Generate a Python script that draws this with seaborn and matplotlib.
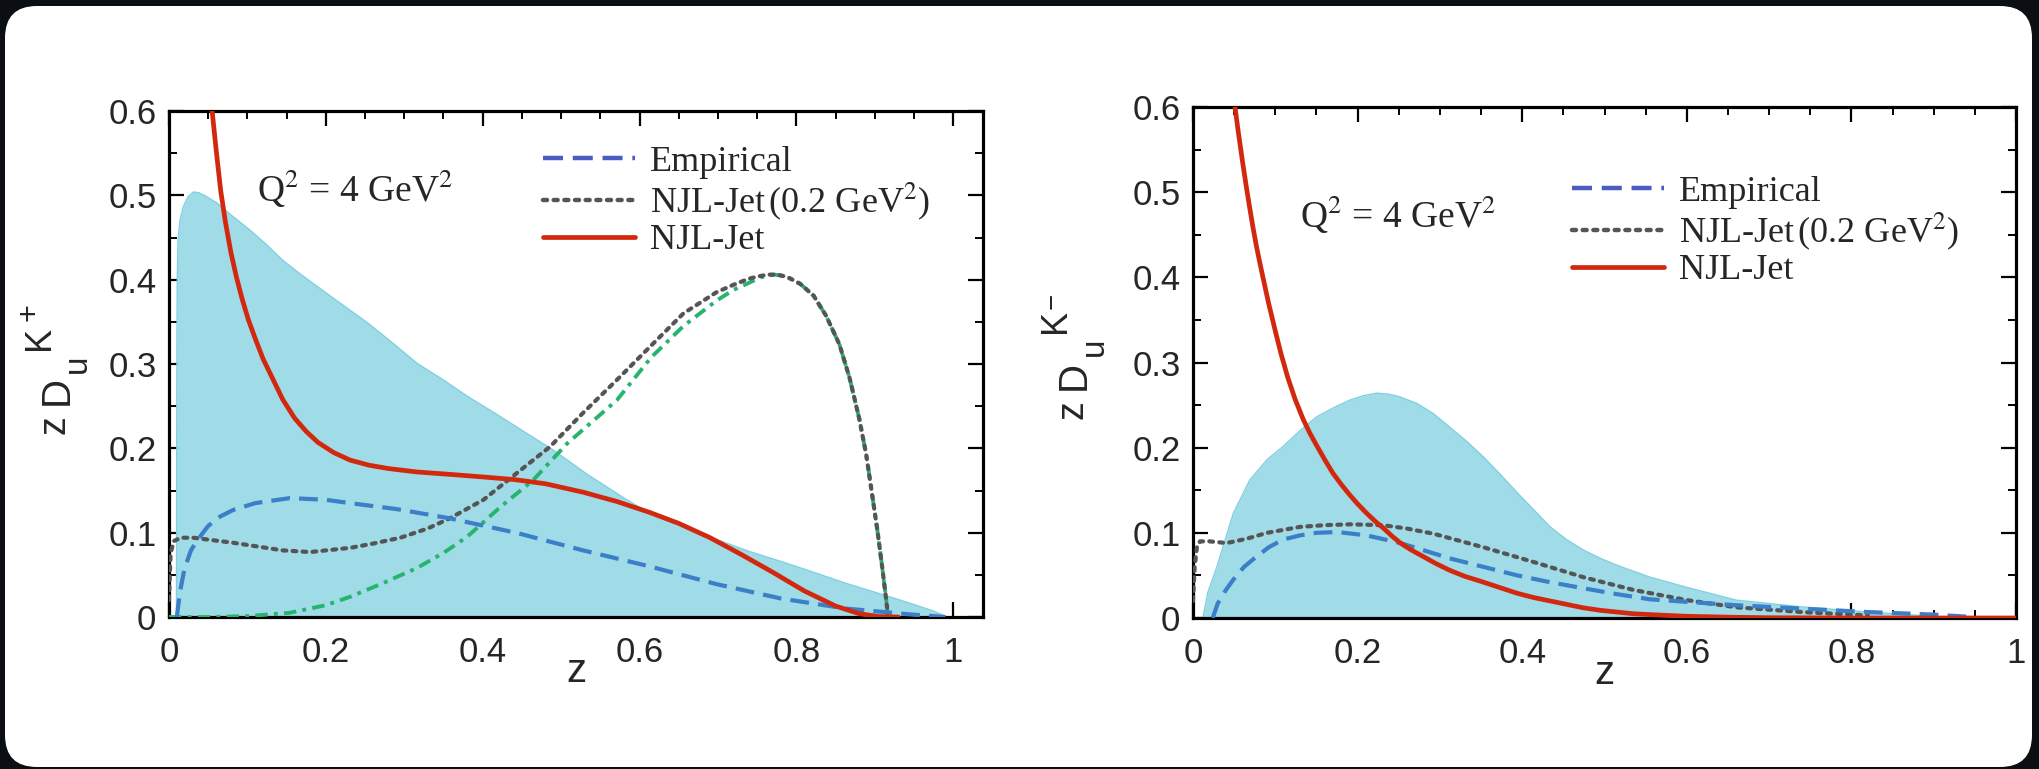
import numpy as np
import pandas as pd
import matplotlib
matplotlib.use('Agg')
import matplotlib.pyplot as plt
import seaborn as sns
from matplotlib.patches import FancyBboxPatch
from matplotlib.lines import Line2D
from matplotlib.ticker import MultipleLocator

# ---------------- data: K+ panel ----------------
kp_band_z = [0.0095, 0.0100, 0.0105, 0.0115, 0.014, 0.018, 0.024, 0.031, 0.038, 0.045, 0.061, 0.080,
             0.103, 0.125, 0.145, 0.167, 0.189, 0.220, 0.253, 0.285, 0.316, 0.350, 0.380, 0.415, 0.449,
             0.490, 0.532, 0.582, 0.613, 0.635, 0.656, 0.698, 0.739, 0.780, 0.822, 0.863, 0.905,
             0.946, 0.975, 0.992]
kp_band_y = [0.0, 0.300, 0.400, 0.447, 0.470, 0.486, 0.498, 0.504, 0.503, 0.500, 0.491, 0.476,
             0.459, 0.441, 0.423, 0.407, 0.392, 0.371, 0.349, 0.325, 0.301, 0.281, 0.262, 0.242, 0.222,
             0.198, 0.170, 0.140, 0.123, 0.115, 0.108, 0.092, 0.078, 0.066, 0.053, 0.040, 0.028,
             0.016, 0.007, 0.0]

kp_red_z = [0.055, 0.060, 0.066, 0.072, 0.079, 0.086, 0.093, 0.101, 0.110, 0.120, 0.132, 0.145, 0.160,
            0.175, 0.190, 0.210, 0.231, 0.255, 0.280, 0.316, 0.360, 0.401, 0.440, 0.480, 0.528, 0.571,
            0.613, 0.650, 0.690, 0.730, 0.770, 0.810, 0.850, 0.880, 0.905, 0.930]
kp_red_y = [0.600, 0.555, 0.505, 0.468, 0.432, 0.403, 0.378, 0.353, 0.330, 0.306, 0.283, 0.258, 0.236,
            0.220, 0.207, 0.195, 0.186, 0.180, 0.176, 0.172, 0.169, 0.166, 0.163, 0.158, 0.148, 0.137,
            0.124, 0.111, 0.094, 0.074, 0.053, 0.031, 0.013, 0.004, 0.0005, 0.0]

kp_emp_z = [0.010, 0.014, 0.020, 0.028, 0.036, 0.050, 0.065, 0.082, 0.11, 0.154, 0.20, 0.231, 0.29,
            0.358, 0.444, 0.528, 0.613, 0.698, 0.78, 0.863, 0.946, 0.99]
kp_emp_y = [0.0, 0.030, 0.058, 0.079, 0.091, 0.108, 0.119, 0.127, 0.135, 0.141, 0.139, 0.135, 0.128,
            0.117, 0.0996, 0.079, 0.060, 0.039, 0.022, 0.010, 0.003, 0.0]

kp_njl0_z = [0.0, 0.002, 0.006, 0.015, 0.031, 0.082, 0.145, 0.180, 0.231, 0.260, 0.295, 0.330, 0.358,
             0.401, 0.444, 0.486, 0.528, 0.571, 0.615, 0.656, 0.698, 0.720, 0.739, 0.752, 0.764, 0.776,
             0.789, 0.805, 0.822, 0.838, 0.855, 0.868, 0.880, 0.889, 0.896, 0.903, 0.909, 0.914, 0.917]
kp_njl0_y = [0.02, 0.075, 0.090, 0.094, 0.094, 0.088, 0.079, 0.077, 0.082, 0.087, 0.094, 0.105, 0.117,
             0.139, 0.171, 0.202, 0.242, 0.281, 0.322, 0.360, 0.385, 0.394, 0.401, 0.404, 0.406, 0.406,
             0.403, 0.395, 0.381, 0.357, 0.323, 0.283, 0.236, 0.193, 0.149, 0.105, 0.0625, 0.025, 0.0]

kp_green_z = [0.0, 0.05, 0.10, 0.154, 0.20, 0.231, 0.27, 0.316, 0.35, 0.380, 0.422, 0.464, 0.508, 0.571,
              0.615, 0.656, 0.698, 0.720, 0.739, 0.755, 0.772, 0.786, 0.805, 0.822, 0.838, 0.855, 0.868,
              0.880, 0.889, 0.896, 0.903, 0.909, 0.914, 0.917]
kp_green_y = [0.0, 0.0, 0.001, 0.005, 0.014, 0.024, 0.039, 0.058, 0.076, 0.095, 0.130, 0.162, 0.206,
              0.257, 0.308, 0.345, 0.375, 0.388, 0.396, 0.403, 0.406, 0.404, 0.395, 0.381, 0.357, 0.323,
              0.283, 0.236, 0.193, 0.149, 0.105, 0.0625, 0.025, 0.0]

# ---------------- data: K- panel ----------------
km_band_z = [0.012, 0.018, 0.029, 0.049, 0.069, 0.090, 0.109, 0.130, 0.150, 0.171, 0.191, 0.207, 0.223,
             0.237, 0.250, 0.272, 0.292, 0.312, 0.333, 0.353, 0.374, 0.394, 0.414, 0.434, 0.454, 0.474,
             0.495, 0.515, 0.555, 0.60, 0.66, 0.74, 0.82, 0.90, 0.94]
km_band_y = [0.0, 0.030, 0.060, 0.123, 0.162, 0.186, 0.201, 0.220, 0.236, 0.247, 0.256, 0.261, 0.264,
             0.263, 0.260, 0.252, 0.240, 0.224, 0.207, 0.189, 0.168, 0.147, 0.127, 0.107, 0.092, 0.080,
             0.070, 0.062, 0.048, 0.036, 0.021, 0.013, 0.007, 0.002, 0.0]

km_red_z = [0.051, 0.055, 0.060, 0.065, 0.069, 0.073, 0.077, 0.081, 0.085, 0.092, 0.100, 0.107, 0.115,
            0.124, 0.134, 0.142, 0.150, 0.160, 0.170, 0.180, 0.190, 0.200, 0.211, 0.222, 0.232, 0.242,
            0.252, 0.265, 0.280, 0.295, 0.312, 0.330, 0.350, 0.372, 0.394, 0.414, 0.434, 0.454, 0.474,
            0.495, 0.515, 0.535, 0.555, 0.60, 0.65, 0.70, 0.80, 0.90, 1.0]
km_red_y = [0.600, 0.571, 0.537, 0.505, 0.481, 0.458, 0.437, 0.418, 0.400, 0.369, 0.337, 0.310, 0.283,
            0.257, 0.233, 0.217, 0.203, 0.186, 0.170, 0.157, 0.145, 0.134, 0.123, 0.113, 0.105, 0.096,
            0.088, 0.080, 0.072, 0.064, 0.056, 0.049, 0.043, 0.036, 0.029, 0.024, 0.020, 0.016, 0.012,
            0.009, 0.007, 0.005, 0.004, 0.002, 0.001, 0.0003, 0.0, 0.0, 0.0]

km_emp_z = [0.024, 0.030, 0.040, 0.049, 0.062, 0.077, 0.092, 0.109, 0.130, 0.150, 0.175, 0.211, 0.252,
            0.312, 0.353, 0.394, 0.434, 0.474, 0.515, 0.555, 0.60, 0.66, 0.74, 0.82, 0.90, 0.95]
km_emp_y = [0.0, 0.017, 0.033, 0.045, 0.060, 0.072, 0.083, 0.092, 0.097, 0.100, 0.101, 0.097, 0.088,
            0.070, 0.060, 0.050, 0.042, 0.035, 0.028, 0.022, 0.019, 0.015, 0.011, 0.007, 0.004, 0.001]

km_njl0_z = [0.0, 0.002, 0.005, 0.0085, 0.020, 0.041, 0.065, 0.090, 0.130, 0.160, 0.191, 0.231, 0.260,
             0.292, 0.353, 0.413, 0.474, 0.535, 0.60, 0.66, 0.74, 0.82]
km_njl0_y = [0.02, 0.06, 0.085, 0.090, 0.090, 0.088, 0.093, 0.100, 0.107, 0.109, 0.110, 0.109, 0.105,
             0.099, 0.083, 0.066, 0.048, 0.033, 0.021, 0.0126, 0.007, 0.003]

x_major = [0, 0.2, 0.4, 0.6, 0.8, 1]
x_major_labels = ['0', '0.2', '0.4', '0.6', '0.8', '1']
y_major = [0, 0.1, 0.2, 0.3, 0.4, 0.5, 0.6]
y_major_labels = ['0', '0.1', '0.2', '0.3', '0.4', '0.5', '0.6']
legend_labels = ['Empirical', 'NJL-Jet$\\,$(0.2 GeV$^2$)', 'NJL-Jet']
annot_text = 'Q$^2$ = 4 GeV$^2$'

# ---------------- style ----------------
sns.set_theme(style='ticks')
plt.rcParams['font.family'] = ['Liberation Sans', 'DejaVu Sans']
plt.rcParams['mathtext.fontset'] = 'stix'

C_BAND = '#a0dbe8'
C_BAND_EDGE = '#80d0e2'
C_RED = '#d2290e'
C_BLUE = '#3a7fc8'
C_BLUE_LEG = '#4a5cbf'
C_GRAY = '#555555'
C_GREEN = '#27b46e'

W, H = 2039, 769
fig = plt.figure(figsize=(W / 100, H / 100), dpi=100, facecolor='#0b0f14')
box = FancyBboxPatch((0.05, 0.02), 20.27, 7.61, boxstyle='round,pad=0,rounding_size=0.32',
                     transform=fig.dpi_scale_trans, facecolor='white', edgecolor='none', zorder=-10)
fig.patches.append(box)


def px_axes(l, t, r, b):
    return fig.add_axes([l / W, 1 - b / H, (r - l) / W, (b - t) / H])


def line(ax, x, y, color, lw, ls, cap='butt', z=3):
    df = pd.DataFrame({'z': x, 'v': y})
    sns.lineplot(data=df, x='z', y='v', ax=ax, color=color, lw=lw, linestyle=ls,
                 estimator=None, sort=False, dash_capstyle=cap, solid_joinstyle='round', zorder=z)


def style_axes(ax, xmax):
    ax.set_xlim(0, xmax)
    ax.set_ylim(0, 0.6)
    ax.set_xticks(x_major)
    ax.set_xticklabels(x_major_labels)
    ax.set_yticks(y_major)
    ax.set_yticklabels(y_major_labels)
    ax.xaxis.set_minor_locator(MultipleLocator(0.05))
    ax.yaxis.set_minor_locator(MultipleLocator(0.05))
    ax.tick_params(which='both', direction='in', top=True, right=True, color='black')
    ax.tick_params(which='major', length=11, width=1.6)
    ax.tick_params(which='minor', length=5.5, width=1.4)
    ax.tick_params(axis='x', which='major', pad=14, labelsize=25)
    ax.tick_params(axis='y', which='major', pad=9, labelsize=25)
    for s in ax.spines.values():
        s.set_linewidth(2.3)
        s.set_color('black')
    ax.set_xlabel('')
    ax.set_ylabel('')
    ax.set_facecolor('white')


def draw_legend(ax, anchor):
    handles = [Line2D([], [], color=C_BLUE_LEG, lw=3.2, ls=(0, (4.5, 2.2))),
               Line2D([], [], color=C_GRAY, lw=3.2, ls=(0, (0.9, 1.5)), dash_capstyle='round'),
               Line2D([], [], color=C_RED, lw=3.4)]
    ax.legend(handles, legend_labels, loc='upper left', bbox_to_anchor=anchor, frameon=False,
              prop={'family': 'Liberation Serif', 'size': 26}, handlelength=2.55, handletextpad=0.4,
              labelspacing=0.05, borderpad=0, borderaxespad=0)


# ---------------- left panel: K+ ----------------
ax1 = px_axes(169, 111, 983, 617)
ax1.fill_between(kp_band_z, 0, kp_band_y, color=C_BAND, lw=0, zorder=1)
ax1.plot(kp_band_z, kp_band_y, color=C_BAND_EDGE, lw=1.0, zorder=1.5)
line(ax1, kp_green_z, kp_green_y, C_GREEN, 2.8, (0, (3.2, 1.6, 1.0, 1.6)))
line(ax1, kp_njl0_z, kp_njl0_y, C_GRAY, 3.0, (0, (0.9, 1.5)), cap='round')
line(ax1, kp_emp_z, kp_emp_y, C_BLUE, 3.0, (0, (4.5, 2.2)))
line(ax1, kp_red_z, kp_red_y, C_RED, 3.4, '-')
style_axes(ax1, 1.038)
ax1.text(0.108, 0.820, annot_text, transform=ax1.transAxes, family='Liberation Serif',
         fontsize=27, va='baseline', ha='left')
draw_legend(ax1, (0.4595, 0.932))

# ---------------- right panel: K- ----------------
ax2 = px_axes(1193, 107, 2016, 618)
ax2.fill_between(km_band_z, 0, km_band_y, color=C_BAND, lw=0, zorder=1)
ax2.plot(km_band_z, km_band_y, color=C_BAND_EDGE, lw=1.0, zorder=1.5)
line(ax2, km_njl0_z, km_njl0_y, C_GRAY, 3.0, (0, (0.9, 1.5)), cap='round')
line(ax2, km_emp_z, km_emp_y, C_BLUE, 3.0, (0, (4.5, 2.2)))
line(ax2, km_red_z, km_red_y, C_RED, 3.4, '-')
style_axes(ax2, 1.0)
ax2.text(0.130, 0.763, annot_text, transform=ax2.transAxes, family='Liberation Serif',
         fontsize=27, va='baseline', ha='left')
draw_legend(ax2, (0.4605, 0.866))


# ---------------- axis labels (composed) ----------------
def ftext(x, y, s, size, **kw):
    fig.text(x / W, 1 - y / H, s, fontsize=size, family='Liberation Sans', ha='center', va='center', **kw)


ftext(576, 671, 'z', 29)
ftext(1604, 673, 'z', 29)

# left y label: z D_u^{K+}
ftext(55, 425, 'z', 27, rotation=90)
ftext(57, 390, 'D', 29, rotation=90)
ftext(77, 364, 'u', 24, rotation=90)
ftext(39, 338, 'K', 26, rotation=90)
ftext(30, 312, '+', 22, rotation=90)

# right y label: z D_u^{K-}
ftext(1072, 410, 'z', 27, rotation=90)
ftext(1074, 375, 'D', 29, rotation=90)
ftext(1094, 347, 'u', 24, rotation=90)
ftext(1055, 321, 'K', 26, rotation=90)
ftext(1053, 301, '\u2212', 20, rotation=90)

fig.savefig('out.png', dpi=100, facecolor=fig.get_facecolor())
